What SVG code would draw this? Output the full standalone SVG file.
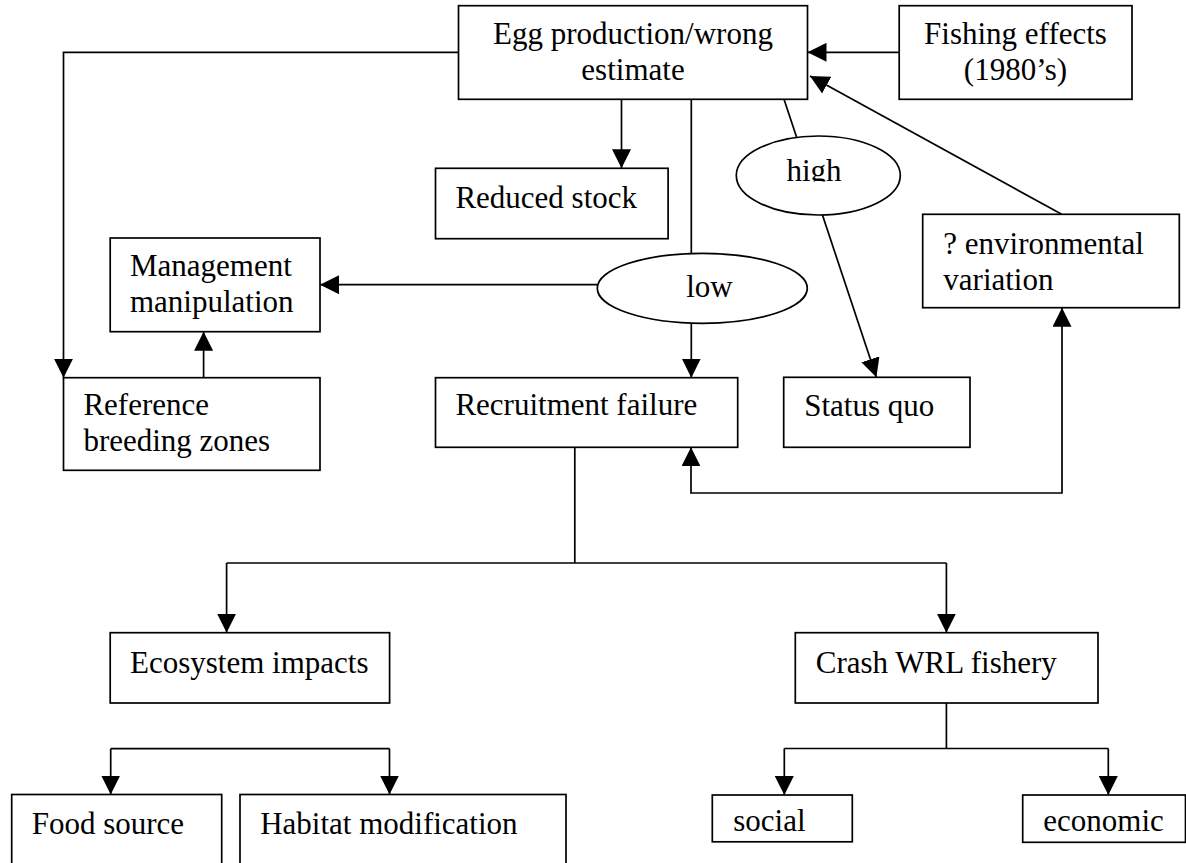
<svg xmlns="http://www.w3.org/2000/svg" width="1186" height="863" viewBox="0 0 1186 863">
  <style>
    .box { fill: #fff; stroke: #000; stroke-width: 1.7; }
    .oval { fill: #fff; stroke: #000; stroke-width: 1.7; }
    .lbl { font-family: "Liberation Serif", "Times New Roman", serif; font-size: 31px; fill: #000; }
    .mid { text-anchor: middle; }
    .wire { fill: none; stroke: #000; stroke-width: 1.7; }
    .arrow { fill: none; stroke: #000; stroke-width: 1.7; marker-end: url(#head); }
  </style>
  <defs>
    <marker id="head" markerUnits="userSpaceOnUse" markerWidth="19" markerHeight="19" refX="19" refY="9.5" orient="auto">
      <path d="M0,0 L19,9.5 L0,19 Z" fill="#000"/>
    </marker>
    <marker id="tail" markerUnits="userSpaceOnUse" markerWidth="19" markerHeight="19" refX="19" refY="9.5" orient="auto-start-reverse">
      <path d="M0,0 L19,9.5 L0,19 Z" fill="#000"/>
    </marker>
    <clipPath id="clipHigh"><rect x="740" y="140" width="160" height="41.5"/></clipPath>
    <clipPath id="clipSocial"><rect x="713" y="796" width="139" height="36"/></clipPath>
    <clipPath id="clipEconomic"><rect x="1023" y="796" width="162" height="36.5"/></clipPath>
  </defs>

  <rect width="1186" height="863" fill="#fff"/>

  <!-- connectors (drawn first so ovals sit over the lines that pass through them) -->
  <g id="connectors">
    <!-- egg production -> reference breeding zones -->
    <path class="arrow" d="M458.5,52.3 H63.5 V377.7"/>
    <!-- fishing effects -> egg production -->
    <path class="arrow" d="M899.2,52.3 H807.5"/>
    <!-- egg production -> reduced stock -->
    <path class="arrow" d="M621.5,99.3 V168.3"/>
    <!-- egg production -> low -->
    <path class="wire" d="M691.3,99.3 V260"/>
    <!-- egg production -> high -> status quo -->
    <path class="arrow" d="M784,99.3 L876.4,377.3"/>
    <!-- environmental variation -> egg production -->
    <path class="arrow" d="M1061.7,214.3 L810,76"/>
    <!-- low -> management manipulation -->
    <path class="arrow" d="M597.4,284.7 H320"/>
    <!-- low -> recruitment failure -->
    <path class="arrow" d="M691.3,323.3 V377.7"/>
    <!-- reference breeding zones -> management manipulation -->
    <path class="arrow" d="M203.6,377.7 V331.7"/>
    <!-- recruitment failure <-> environmental variation -->
    <path class="wire" d="M691,447.3 V493 H1062 V307.7" marker-start="url(#tail)" marker-end="url(#head)"/>
    <!-- recruitment failure -> ecosystem impacts / crash WRL fishery -->
    <path class="wire" d="M574.8,447.3 V563"/>
    <path class="wire" d="M226.6,563 H946.4"/>
    <path class="arrow" d="M226.6,563 V632.7"/>
    <path class="arrow" d="M946.4,563 V632.7"/>
    <!-- ecosystem impacts branch -->
    <path class="wire" d="M110.7,748.7 H389.5"/>
    <path class="arrow" d="M110.7,748.7 V794.5"/>
    <path class="arrow" d="M389.5,748.7 V794.5"/>
    <!-- crash WRL fishery branch -->
    <path class="wire" d="M946.4,703 V748.5"/>
    <path class="wire" d="M784.3,748.5 H1108.3"/>
    <path class="arrow" d="M784.3,748.5 V795"/>
    <path class="arrow" d="M1108.3,748.5 V795"/>
  </g>

  <g id="egg">
    <rect class="box" x="458.5" y="5.7" width="349" height="93.6"/>
    <text class="lbl mid" x="633" y="44">Egg production/wrong</text>
    <text class="lbl mid" x="633" y="80">estimate</text>
  </g>

  <g id="fishing">
    <rect class="box" x="899.2" y="5.7" width="232.8" height="93.6"/>
    <text class="lbl mid" x="1015.5" y="44">Fishing effects</text>
    <text class="lbl mid" x="1015.5" y="80">(1980’s)</text>
  </g>

  <g id="reduced">
    <rect class="box" x="435.5" y="168.3" width="232.6" height="70.4"/>
    <text class="lbl" x="455.4" y="208">Reduced stock</text>
  </g>

  <g id="high">
    <ellipse class="oval" cx="818.3" cy="175.5" rx="82" ry="39.5"/>
    <text class="lbl mid" x="814" y="180.5" clip-path="url(#clipHigh)">high</text>
  </g>

  <g id="management">
    <rect class="box" x="110.2" y="238" width="209.8" height="93.7"/>
    <text class="lbl" x="130" y="276">Management</text>
    <text class="lbl" x="130" y="311.7">manipulation</text>
  </g>

  <g id="low">
    <ellipse class="oval" cx="702.3" cy="288.3" rx="105" ry="35"/>
    <text class="lbl mid" x="709.5" y="297">low</text>
  </g>

  <g id="environment">
    <rect class="box" x="922.7" y="214.3" width="256.6" height="93.4"/>
    <text class="lbl" x="943.3" y="254">? environmental</text>
    <text class="lbl" x="943.3" y="290">variation</text>
  </g>

  <g id="reference">
    <rect class="box" x="63.5" y="377.7" width="256.5" height="92.6"/>
    <text class="lbl" x="83.4" y="415">Reference</text>
    <text class="lbl" x="83.4" y="450.7">breeding zones</text>
  </g>

  <g id="recruitment">
    <rect class="box" x="435.5" y="377.7" width="302.2" height="69.6"/>
    <text class="lbl" x="455.4" y="415">Recruitment failure</text>
  </g>

  <g id="statusquo">
    <rect class="box" x="783.7" y="377.3" width="186.3" height="70"/>
    <text class="lbl" x="804.2" y="416">Status quo</text>
  </g>

  <g id="ecosystem">
    <rect class="box" x="110.2" y="632.7" width="279.4" height="70.3"/>
    <text class="lbl" x="130" y="672.7">Ecosystem impacts</text>
  </g>

  <g id="crash">
    <rect class="box" x="795.3" y="632.7" width="302.7" height="70.3"/>
    <text class="lbl" x="815.8" y="672.7">Crash WRL fishery</text>
  </g>

  <g id="food">
    <rect class="box" x="11.7" y="794.5" width="210" height="90"/>
    <text class="lbl" x="31.7" y="834.3">Food source</text>
  </g>

  <g id="habitat">
    <rect class="box" x="240" y="794.5" width="326" height="90"/>
    <text class="lbl" x="260.2" y="834.3">Habitat modification</text>
  </g>

  <g id="social">
    <rect class="box" x="712.3" y="795" width="140" height="46.8"/>
    <text class="lbl" x="733.3" y="831" clip-path="url(#clipSocial)">social</text>
  </g>

  <g id="economic">
    <rect class="box" x="1022.7" y="795" width="162.8" height="47.3"/>
    <text class="lbl" x="1043.3" y="831" clip-path="url(#clipEconomic)">economic</text>
  </g>
</svg>
